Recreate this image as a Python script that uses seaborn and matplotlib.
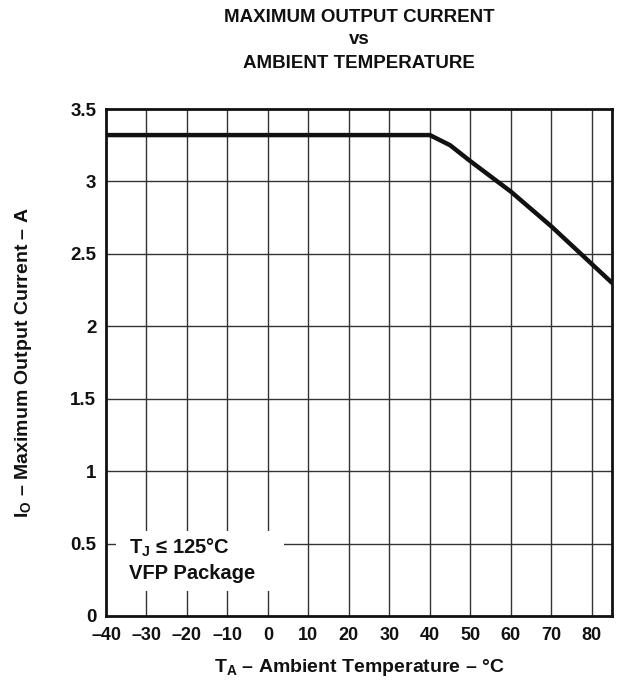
import matplotlib
matplotlib.use("Agg")
import matplotlib.pyplot as plt
import seaborn as sns
import pandas as pd

temperature = [-40, 40, 45, 50, 60, 70, 80, 85]
current = [3.32, 3.32, 3.25, 3.14, 2.93, 2.69, 2.43, 2.30]
x_ticks = [-40, -30, -20, -10, 0, 10, 20, 30, 40, 50, 60, 70, 80]
y_ticks = [0, 0.5, 1, 1.5, 2, 2.5, 3, 3.5]
y_tick_labels = ["0", "0.5", "1", "1.5", "2", "2.5", "3", "3.5"]

sns.set_theme(style="white")
plt.rcParams['font.family'] = ['Liberation Sans', 'DejaVu Sans']
plt.rcParams['font.weight'] = 'bold'
plt.rcParams['mathtext.fontset'] = 'custom'
plt.rcParams['mathtext.bf'] = 'Liberation Sans:bold'
plt.rcParams['mathtext.rm'] = 'Liberation Sans:bold'

df = pd.DataFrame({"T": temperature, "I": current})
DASH = "\u2013"
INK = "#111111"

fig = plt.figure(figsize=(6.18, 6.81), dpi=100)
ax = fig.add_axes([106/618, 1-616/681, (612-106)/618, (616-109)/681])

for xv in x_ticks[1:]:
    ax.axvline(xv, color="#333333", lw=1.0, zorder=1)
for yv in y_ticks[1:-1]:
    ax.axhline(yv, color="#333333", lw=1.0, zorder=1)

sns.lineplot(data=df, x="T", y="I", ax=ax, color=INK, lw=3.2, zorder=3)

ax.set_xlim(-40, 85)
ax.set_ylim(0, 3.5)
ax.set_xticks(x_ticks)
ax.set_xticklabels([(DASH + str(-v)) if v < 0 else str(v) for v in x_ticks])
ax.set_yticks(y_ticks)
ax.set_yticklabels(y_tick_labels)
ax.tick_params(axis="x", length=0, labelsize=13, pad=8, colors=INK)
ax.tick_params(axis="y", length=0, labelsize=13.5, pad=7, colors=INK)
for lab in ax.get_xticklabels() + ax.get_yticklabels():
    lab.set_fontweight("bold")
for s in ax.spines.values():
    s.set_color(INK)
    s.set_linewidth(2.0)
    s.set_visible(True)

ax.add_patch(plt.Rectangle((-37.5, 0.17), 41.4, 0.42, facecolor="white",
                           edgecolor="none", zorder=2))
ax.text(-34.3, 0.47, r"T$_\mathbf{J}$ " + "\u2264 125\u00b0C", fontsize=14.5, fontweight="bold",
        va="center", ha="left", zorder=4, color=INK)
ax.text(-34.3, 0.295, "VFP Package", fontsize=14.5, fontweight="bold",
        va="center", ha="left", zorder=4, color=INK)

ax.set_xlabel(r"T$_\mathbf{A}$ " + DASH + " Ambient Temperature " + DASH + " \u00b0C",
              fontsize=14, fontweight="bold", labelpad=9, color=INK)
ax.set_ylabel(r"I$_\mathbf{O}$ " + DASH + " Maximum Output Current " + DASH + " A",
              fontsize=14, fontweight="bold", labelpad=26, color=INK)

fig.text(359/618, 1-18/681, "MAXIMUM OUTPUT CURRENT", ha="center", va="center",
         fontsize=13.5, fontweight="bold", color=INK)
fig.text(359/618, 1-40/681, "vs", ha="center", va="center",
         fontsize=13.5, fontweight="bold", color=INK)
fig.text(359/618, 1-63/681, "AMBIENT TEMPERATURE", ha="center", va="center",
         fontsize=13.5, fontweight="bold", color=INK)

fig.savefig("out.png", dpi=100)
